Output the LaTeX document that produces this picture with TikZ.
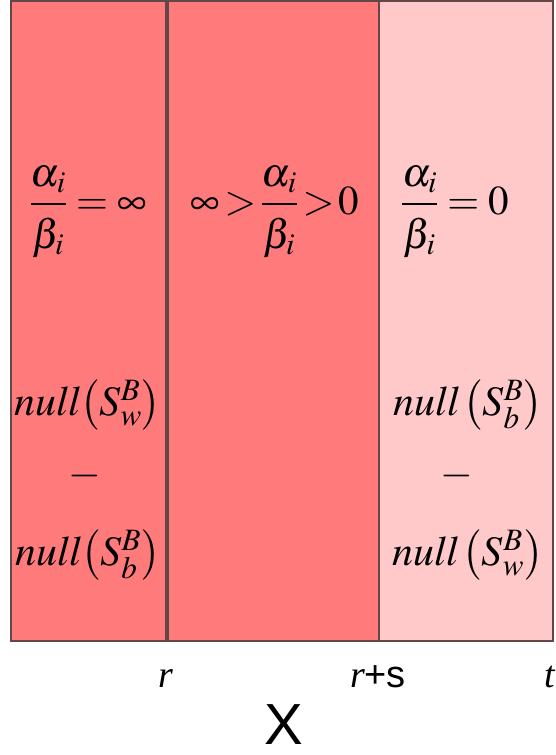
\documentclass[tikz,border=0pt]{standalone}
\usepackage{mathptmx}
\usepackage[no-math]{fontspec}
\setmainfont{Liberation Serif}
\setsansfont{Liberation Sans}
\definecolor{redA}{RGB}{255,123,123}
\definecolor{redB}{RGB}{255,201,201}
\definecolor{bordc}{RGB}{100,70,70}
\newcommand{\ratio}{\frac{\alpha_i}{\rule{0pt}{0.95em}\beta_i}}
\begin{document}
\begin{tikzpicture}[x=1pt,y=-1pt,
  band/.style={draw=bordc, line width=1.3pt},
  ftxt/.style={inner sep=0pt, font=\fontsize{41}{48}\selectfont},
  mtxt/.style={inner sep=0pt, font=\fontsize{42}{48}\selectfont},
  ltxt/.style={inner sep=0pt, font=\fontsize{38}{44}\selectfont, anchor=base}]
\useasboundingbox (0,0) rectangle (555,755);
\path[band, fill=redA] (11,1) rectangle (166,641);
\path[band, fill=redA] (168,1) rectangle (379,641);
\path[band, fill=redB] (379,1) rectangle (553,641);
% fractions
\node[ftxt] (f1) at (88,212) {$\displaystyle\ratio=\infty$};
\node[ftxt] (f2) at (275,212) {$\displaystyle\infty\mskip-2mu>\mskip-2mu\ratio\mskip-2mu>\mskip-2mu0$};
\node[ftxt] (f3) at (455,212) {$\displaystyle\ratio=0$};
% null spaces
\node[mtxt] (n1) at (88,405) {$\mathit{null}\bigl(S^B_w\bigr)$};
\node[mtxt] (d1) at (85,476) {$-$};
\node[mtxt] (n2) at (88,555) {$\mathit{null}\bigl(S^B_b\bigr)$};
\node[mtxt] (n3) at (468,405) {$\mathit{null}\,\bigl(S^B_b\bigr)$};
\node[mtxt] (d2) at (457,476) {$-$};
\node[mtxt] (n4) at (468,555) {$\mathit{null}\,\bigl(S^B_w\bigr)$};
% axis labels
\node[ltxt] (lr) at (166,687) {\itshape r};
\node[ltxt] (lrs) at (378,687) {{\itshape r}{\sffamily +s}};
\node[ltxt] (lt) at (550,687) {\itshape t};
\node[inner sep=0pt, font=\sffamily\fontsize{58}{64}\selectfont, anchor=base] (lx) at (284,744) {X};
\end{tikzpicture}
\end{document}
